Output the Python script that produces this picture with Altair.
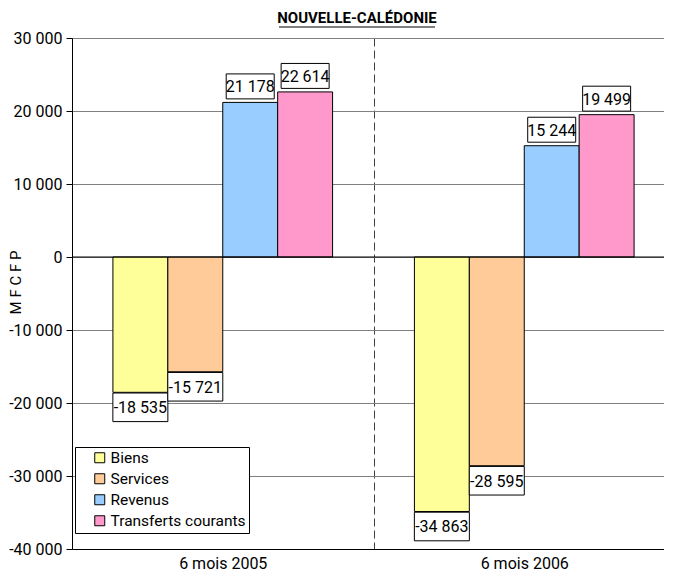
import altair as alt
import pandas as pd

periods = ["6 mois 2005", "6 mois 2006"]
series = ["Biens", "Services", "Revenus", "Transferts courants"]
v2005 = [-18535, -15721, 21178, 22614]
v2006 = [-34863, -28595, 15244, 19499]
colors = ["#FFFF99", "#FFCC99", "#99CCFF", "#FF99CC"]
y_ticks = [-40000, -30000, -20000, -10000, 0, 10000, 20000, 30000]
title_text = "NOUVELLE-CALÉDONIE"
y_title = "M F  C F P"

FONT = "Roboto, 'Liberation Sans', sans-serif"

rows = []
for p, vals in zip(periods, [v2005, v2006]):
    for s, v in zip(series, vals):
        rows.append({"periode": p, "poste": s, "valeur": v,
                     "label": f"{v:,}".replace(",", " ")})
df = pd.DataFrame(rows)

x = alt.X("periode:N", sort=periods, title=None,
          scale=alt.Scale(paddingInner=0, paddingOuter=0),
          axis=alt.Axis(labelAngle=0, labelFontSize=16, labelColor="black",
                        grid=True, tickBand="extent", gridDash=[8, 4],
                        gridColor="#404040", gridWidth=1, ticks=False,
                        domainColor="black", labelPadding=6))
xo = alt.XOffset("poste:N", sort=series,
                 scale=alt.Scale(paddingInner=0, paddingOuter=0.745))
y = alt.Y("valeur:Q", scale=alt.Scale(domain=[-40000, 30000], nice=False),
          axis=alt.Axis(values=y_ticks, title=y_title, titleFontSize=15,
                        titleFontWeight="normal", titleColor="black",
                        titleX=-57, titleY=244, titleAlign="center",
                        titleBaseline="middle",
                        labelFontSize=16, labelColor="black",
                        labelExpr="replace(replace(format(datum.value, ','), regexp(',', 'g'), ' '), '\u2212', '-')",
                        tickSize=6, tickColor="black", domainColor="black",
                        gridColor="#808080", labelPadding=4))

base = alt.Chart(df)

bars = base.mark_bar(stroke="black", strokeWidth=1).encode(
    x=x, xOffset=xo, y=y,
    color=alt.Color("poste:N", sort=series,
                    scale=alt.Scale(domain=series, range=colors),
                    legend=alt.Legend(title=None, orient="none", legendX=3, legendY=409,
                                      fillColor="white", strokeColor="black",
                                      padding=3, labelFontSize=15.5, labelColor="black",
                                      symbolType="square", symbolSize=100,
                                      symbolOffset=14,
                                      symbolStrokeColor="black", symbolStrokeWidth=1,
                                      symbolOpacity=1,
                                      rowPadding=4, labelOffset=3, labelLimit=300))
)

one = alt.Data(values=[{"t": title_text}])

zero = alt.Chart(one).mark_rule(color="black", strokeWidth=1).encode(y=alt.datum(0))

box_shape = "M-1,-0.52L1,-0.52L1,0.52L-1,0.52Z"

def label_layer(cond, off):
    b = base.transform_filter(cond).transform_calculate(
        bsize="length(datum.label) <= 6 ? 48*48 : 55*55"
    )
    boxes = b.mark_point(shape=box_shape, filled=True, fill="white", stroke="black",
                         strokeWidth=1, opacity=1, yOffset=off).encode(
        x=alt.X("periode:N", sort=periods), xOffset=xo, y="valeur:Q",
        size=alt.Size("bsize:Q", scale=None, legend=None))
    txt = b.mark_text(fontSize=16, color="black", baseline="middle", yOffset=off + 1).encode(
        x=alt.X("periode:N", sort=periods), xOffset=xo, y="valeur:Q", text="label:N")
    return boxes + txt

pos = label_layer("datum.valeur > 0", -16)
neg = label_layer("datum.valeur < 0", 15)

title = alt.Chart(one).mark_text(fontSize=15, fontWeight="bold", color="black").encode(
    x=alt.value(285), y=alt.value(-20), text="t:N")
underline = alt.Chart(one).mark_rule(color="black", strokeWidth=1).encode(
    x=alt.value(207), x2=alt.value(363), y=alt.value(-11))

chart = alt.layer(bars, zero, pos, neg, title, underline).properties(
    width=603, height=511,
    autosize=alt.AutoSizeParams(type="none"),
    padding={"left": 64, "top": 30, "right": -11, "bottom": 22},
).configure(font=FONT).configure_view(stroke=None)

chart.save("out.html", embed_options={"renderer": "svg", "actions": False})
